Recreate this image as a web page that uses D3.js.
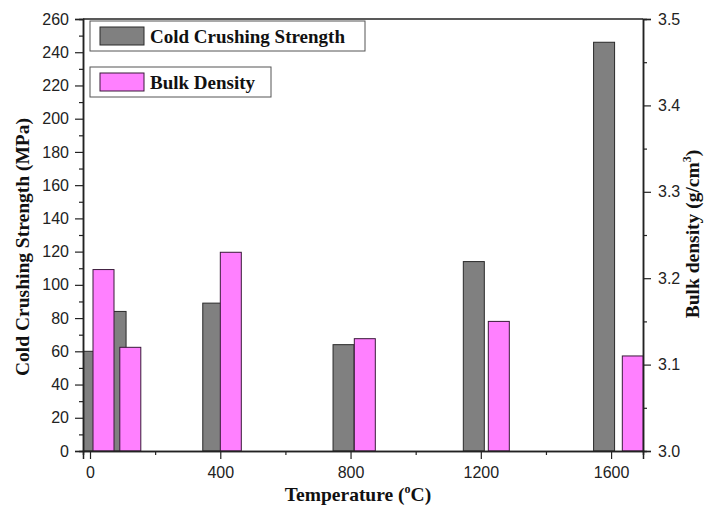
<html>
<head>
    <style>
        body { margin: 0; background: #ffffff; }
        .tick text { font-family: Arial, "Liberation Sans", sans-serif; font-size: 16px; fill: #222; }
        .titulo { font-family: "Times New Roman", "Liberation Serif", serif; font-weight: bold; font-size: 19.5px; fill: #111; }
    </style>
    <script src="https://cdn.jsdelivr.net/npm/d3@7"></script>
</head>
<body>
<svg id="grafico"></svg>
<script>
    // datos
    let temperaturas = [0, 100, 400, 800, 1200, 1600];
    let temperaturasDensidad = [20, 100, 400, 800, 1200, 1600];  // capa de densidad (eje x propio)
    let resistencia = [60, 84, 89, 64, 114, 246];          // Cold Crushing Strength (MPa)
    let densidad = [3.21, 3.12, 3.23, 3.13, 3.15, 3.11];   // Bulk density (g/cm3)
    let ticksX = [0, 400, 800, 1200, 1600];
    let ticksIzq = d3.range(0, 261, 20);
    let ticksDer = [3.0, 3.1, 3.2, 3.3, 3.4, 3.5];
    let leyenda = ["Cold Crushing Strength", "Bulk Density"];

    function configuracion() {
        let ancho = 705, alto = 510;
        let margenes = { top: 19, bottom: 59, left: 83, right: 62 };
        let anchuraCuerpo = ancho - margenes.left - margenes.right;
        let alturaCuerpo = alto - margenes.top - margenes.bottom;
        let contenedor = d3.select("#grafico").attr("width", ancho).attr("height", alto);
        return { ancho, alto, margenes, anchuraCuerpo, alturaCuerpo, contenedor };
    }

    function escalas(conf) {
        let { anchuraCuerpo, alturaCuerpo } = conf;
        let escalaX = d3.scaleLinear().domain([-21.5, 1698]).range([0, anchuraCuerpo]);
        // la capa de densidad tiene su propio eje x (un poco distinto, como en Origin)
        let escalaXDensidad = d3.scaleLinear().domain([-41.2, 1630.4]).range([0, anchuraCuerpo]);
        let escalaY = d3.scaleLinear().domain([0, 260]).range([alturaCuerpo, 0]);
        let escalaY2 = d3.scaleLinear().domain([3.0, 3.5]).range([alturaCuerpo, 0]);
        return { escalaX, escalaXDensidad, escalaY, escalaY2 };
    }

    function dibujarBarras(conf, esc) {
        let { margenes, contenedor, alturaCuerpo, anchuraCuerpo } = conf;
        let anchoBarra = 21;

        contenedor.append("clipPath").attr("id", "recorte")
            .append("rect").attr("width", anchuraCuerpo).attr("height", alturaCuerpo);

        let cuerpo = contenedor.append("g")
            .attr("transform", `translate(${margenes.left},${margenes.top})`)
            .attr("clip-path", "url(#recorte)");

        cuerpo.selectAll(".gris").data(temperaturas).enter().append("rect")
            .attr("class", "gris")
            .attr("x", (d) => esc.escalaX(d) - 7 - anchoBarra / 2)
            .attr("width", anchoBarra)
            .attr("y", (d, i) => esc.escalaY(resistencia[i]))
            .attr("height", (d, i) => alturaCuerpo - esc.escalaY(resistencia[i]))
            .attr("fill", "#808080").attr("stroke", "#2a2a2a").attr("stroke-width", 1);

        cuerpo.selectAll(".rosa").data(temperaturasDensidad).enter().append("rect")
            .attr("class", "rosa")
            .attr("x", (d) => esc.escalaXDensidad(d) - anchoBarra / 2)
            .attr("width", anchoBarra)
            .attr("y", (d, i) => esc.escalaY2(densidad[i]))
            .attr("height", (d, i) => alturaCuerpo - esc.escalaY2(densidad[i]))
            .attr("fill", "#ff80ff").attr("stroke", "#3a1a3a").attr("stroke-width", 1);
    }

    function dibujarEjes(conf, esc) {
        let { contenedor, margenes, anchuraCuerpo, alturaCuerpo } = conf;

        // marco superior
        contenedor.append("line")
            .attr("x1", margenes.left).attr("x2", margenes.left + anchuraCuerpo)
            .attr("y1", margenes.top).attr("y2", margenes.top)
            .attr("stroke", "#222").attr("stroke-width", 1.5);

        // ticks menores
        contenedor.append("g")
            .attr("transform", `translate(${margenes.left},${margenes.top + alturaCuerpo})`)
            .call(d3.axisBottom(esc.escalaX).tickValues(d3.range(200, 1700, 400)).tickSize(4).tickFormat(""));
        contenedor.append("g")
            .attr("transform", `translate(${margenes.left},${margenes.top})`)
            .call(d3.axisLeft(esc.escalaY).tickValues(d3.range(10, 260, 20)).tickSize(4).tickFormat(""));
        contenedor.append("g")
            .attr("transform", `translate(${margenes.left + anchuraCuerpo},${margenes.top})`)
            .call(d3.axisRight(esc.escalaY2).tickValues([3.05, 3.15, 3.25, 3.35, 3.45]).tickSize(4).tickFormat(""));

        let ejeX = d3.axisBottom(esc.escalaX).tickValues(ticksX).tickSize(8).tickPadding(8)
            .tickFormat(d3.format("d"));
        contenedor.append("g")
            .attr("transform", `translate(${margenes.left},${margenes.top + alturaCuerpo})`)
            .call(ejeX);

        let ejeY = d3.axisLeft(esc.escalaY).tickValues(ticksIzq).tickSize(8).tickPadding(6);
        contenedor.append("g")
            .attr("transform", `translate(${margenes.left},${margenes.top})`)
            .call(ejeY);

        let ejeY2 = d3.axisRight(esc.escalaY2).tickValues(ticksDer).tickSize(8).tickPadding(7)
            .tickFormat(d3.format(".1f"));
        contenedor.append("g")
            .attr("transform", `translate(${margenes.left + anchuraCuerpo},${margenes.top})`)
            .call(ejeY2);

        contenedor.selectAll(".domain").attr("stroke", "#222").attr("stroke-width", 1.5);
        contenedor.selectAll(".tick line").attr("stroke", "#222").attr("stroke-width", 1.2);

        // titulos
        let tx = contenedor.append("text").attr("class", "titulo")
            .attr("x", 358).attr("y", 501)
            .attr("text-anchor", "middle");
        tx.append("tspan").text("Temperature (");
        tx.append("tspan").text("o").attr("font-size", 12).attr("dy", -8);
        tx.append("tspan").text("C)").attr("dy", 8);

        contenedor.append("text").attr("class", "titulo")
            .attr("transform", "translate(29,247) rotate(-90)")
            .attr("text-anchor", "middle")
            .text("Cold Crushing Strength (MPa)");

        let ty = contenedor.append("text").attr("class", "titulo")
            .attr("transform", "translate(699,234) rotate(-90)")
            .attr("text-anchor", "middle");
        ty.append("tspan").text("Bulk density (g/cm");
        ty.append("tspan").text("3").attr("font-size", 12).attr("dy", -8);
        ty.append("tspan").text(")").attr("dy", 8);
    }

    function dibujarLeyenda(conf) {
        let { contenedor } = conf;
        let cajas = [
            { texto: leyenda[0], color: "#808080", borde: "#2a2a2a", y: 21, ancho: 275 },
            { texto: leyenda[1], color: "#ff80ff", borde: "#3a1a3a", y: 67, ancho: 181 }
        ];
        let g = contenedor.append("g").selectAll("g").data(cajas).enter().append("g")
            .attr("transform", (d) => `translate(90,${d.y})`);
        g.append("rect").attr("width", (d) => d.ancho).attr("height", 30)
            .attr("fill", "white").attr("stroke", "#555").attr("stroke-width", 1);
        g.append("rect").attr("x", 10).attr("y", 6).attr("width", 44).attr("height", 18)
            .attr("fill", (d) => d.color).attr("stroke", (d) => d.borde);
        g.append("text").attr("class", "titulo").attr("x", 60).attr("y", 22)
            .style("font-size", "19px").text((d) => d.texto);
    }

    let conf = configuracion();
    let esc = escalas(conf);
    dibujarBarras(conf, esc);
    dibujarEjes(conf, esc);
    dibujarLeyenda(conf);
</script>
</body>
</html>
